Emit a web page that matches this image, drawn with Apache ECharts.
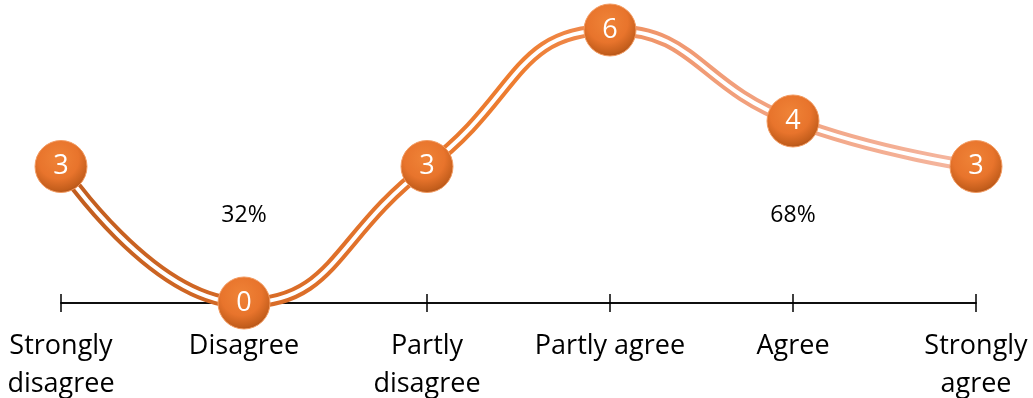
<!DOCTYPE html>
<html>
<head>
<meta charset="utf-8">
<script src="https://cdn.jsdelivr.net/npm/echarts@6/dist/echarts.min.js"></script>
<style>
  html, body { margin: 0; padding: 0; background: #fff; }
  #chart { width: 1033px; height: 398px; }
</style>
</head>
<body>
<div id="chart"></div>
<script>
// categories and counts
var categories = ['Strongly\ndisagree', 'Disagree', 'Partly\ndisagree', 'Partly agree', 'Agree', 'Strongly\nagree'];
var counts = [3, 0, 3, 6, 4, 3];
// share of disagree / agree side, placed under each half
var shareLabels = ['32%', '68%'];
var shareCats = [1, 4];
var shareLevel = [1.93, 1.93];

var FONT = 'Open Sans';

var lineGradient = new echarts.graphic.LinearGradient(0, 0, 1, 0, [
    {offset: 0, color: '#c05c1e'},
    {offset: 0.3, color: '#df702a'},
    {offset: 0.5, color: '#ee7d30'},
    {offset: 0.66, color: '#f09870'},
    {offset: 1, color: '#f5b8a2'}
]);

var ball = new echarts.graphic.RadialGradient(0.45, 0.35, 0.7, [
    {offset: 0, color: '#ef8337'},
    {offset: 0.55, color: '#e8742c'},
    {offset: 0.85, color: '#c45e1c'},
    {offset: 1, color: '#9e4a15'}
]);

var chart = echarts.init(document.getElementById('chart'));

var axisBase = {
    type: 'category',
    data: categories,
    boundaryGap: false,
    position: 'bottom',
    axisLine: {lineStyle: {color: '#000', width: 1.5}},
    splitLine: {show: false}
};

var option = {
    animation: false,
    grid: {left: 61, right: 57, top: 30, bottom: 95, containLabel: false, outerBoundsMode: 'none'},
    xAxis: [
        Object.assign({}, axisBase, {
            axisTick: {show: true, inside: false, length: 9, lineStyle: {color: '#000', width: 1.5}},
            axisLabel: {
                color: '#000', fontFamily: FONT, fontSize: 27, lineHeight: 38,
                margin: 24, interval: 0
            }
        }),
        Object.assign({}, axisBase, {
            axisTick: {show: true, inside: true, length: 9, lineStyle: {color: '#000', width: 1.5}},
            axisLabel: {show: false}
        })
    ],
    yAxis: {
        type: 'value', min: 0, max: 6, show: false
    },
    series: [
        {
            type: 'line',
            data: counts,
            smooth: 0.5,
            symbol: 'none',
            z: 2,
            lineStyle: {width: 12, color: lineGradient}
        },
        {
            type: 'line',
            data: counts,
            smooth: 0.5,
            symbol: 'none',
            z: 3,
            lineStyle: {width: 4, color: '#fff'}
        },
        {
            type: 'scatter',
            data: counts,
            symbol: 'circle',
            symbolSize: 52,
            clip: false,
            z: 5,
            itemStyle: {color: ball, opacity: 1, borderColor: '#f29a60', borderWidth: 1},
            label: {
                show: true, position: 'inside', color: '#fff',
                fontFamily: FONT, fontSize: 27,
                formatter: function (p) { return p.value; }
            },
            emphasis: {disabled: true}
        },
        {
            type: 'scatter',
            data: shareCats.map(function (c, i) { return [c, shareLevel[i]]; }),
            symbolSize: 1,
            z: 4,
            itemStyle: {opacity: 0},
            label: {
                show: true, position: 'inside', color: '#000', opacity: 1,
                fontFamily: FONT, fontSize: 23,
                formatter: function (p) { return shareLabels[p.dataIndex]; }
            },
            emphasis: {disabled: true}
        }
    ]
};

chart.setOption(option);
</script>
</body>
</html>
